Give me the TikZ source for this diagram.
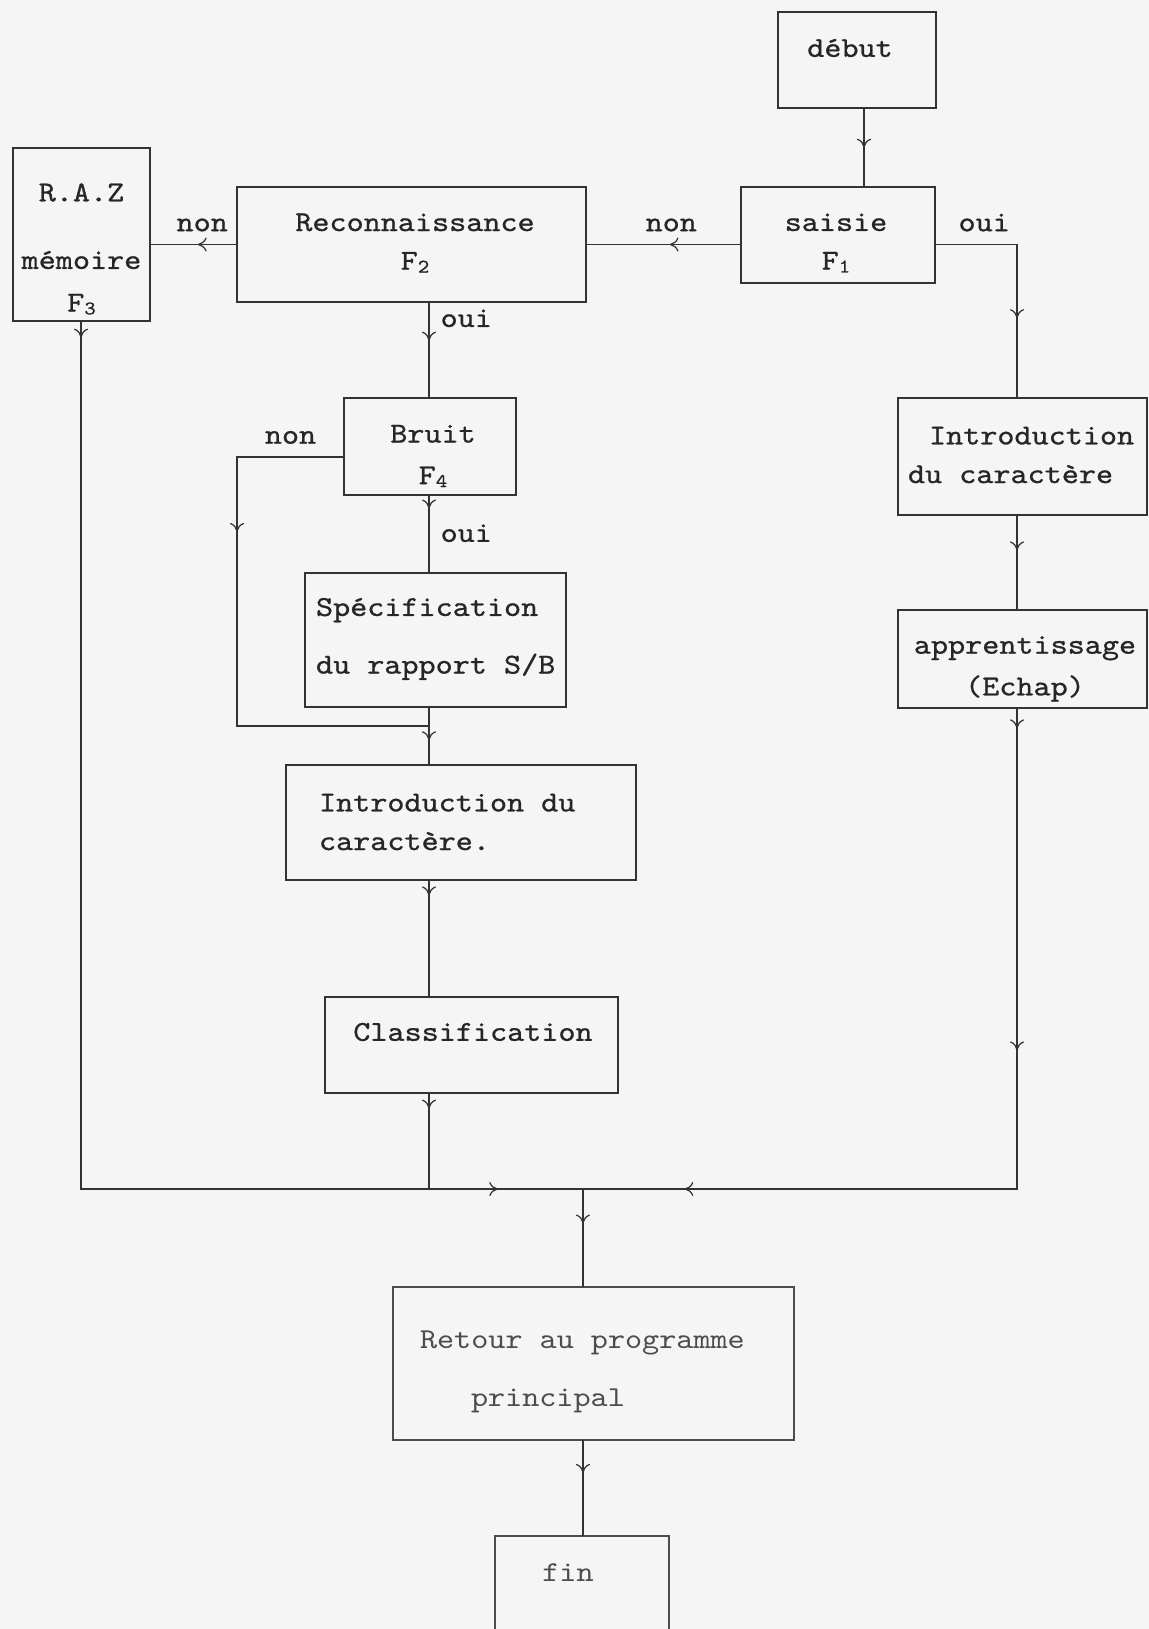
\documentclass[tikz,border=0pt]{standalone}
\usepackage{fontspec}
\newfontfamily\typefont{lmmono10-regular.otf}[FakeStretch=1.13,FakeBold=0.8]
\newfontfamily\lighttype{lmmono10-regular.otf}[FakeStretch=1.13]
\usetikzlibrary{arrows.meta,decorations.markings}
\newcommand\idx[1]{\raisebox{-0.1em}{\fontsize{11}{11}\selectfont #1}}
\newcommand\typesize{\fontsize{16.4}{22}\selectfont\spaceskip=0.593em\relax}
\begin{document}
\begin{tikzpicture}[x=0.02cm,y=-0.02cm,>={To[length=5pt,width=8pt]},
    font=\typefont\typesize,text=black!85,
    box/.style={draw=black!80,line width=1pt,inner sep=0pt,outer sep=0pt},
    txt/.style={inner sep=0pt,align=center},
    wire/.style={draw=black!80,line width=0.7pt},
    midtip/.style={decoration={markings,mark=at position #1 with {\arrow{>}}}},
    flow/.style={wire,postaction={decorate},midtip=#1},
    lbl/.style={inner sep=0pt}]
  \clip (0,0) rectangle (1149,1629);
  \fill[black!4] (0,0) rectangle (1149,1629);
  % columns of the connectors
  \coordinate (cA) at (864,0);
  \coordinate (cM) at (429,0);
  \coordinate (cL) at (81,0);
  \coordinate (cR) at (1017,0);
  \coordinate (cB) at (237,0);
  \coordinate (cJ) at (583,0);
  \coordinate (bot) at (0,1189);
  \coordinate (merge) at (429,726);
  % boxes
  \node[box,minimum width=3.16cm,minimum height=1.92cm] (debut) at (857,60) {};
  \node[box,minimum width=3.88cm,minimum height=1.92cm] (saisie) at (838,235) {};
  \node[box,minimum width=6.98cm,minimum height=2.30cm] (recon) at (411.5,244.5) {};
  \node[box,minimum width=2.74cm,minimum height=3.46cm] (raz) at (81.5,234.5) {};
  \node[box,minimum width=3.44cm,minimum height=1.94cm] (bruit) at (430,446.5) {};
  \node[box,minimum width=4.98cm,minimum height=2.34cm] (intro1) at (1022.5,456.5) {};
  \node[box,minimum width=4.98cm,minimum height=1.96cm] (appr) at (1022.5,659) {};
  \node[box,minimum width=5.22cm,minimum height=2.68cm] (spec) at (435.5,640) {};
  \node[box,minimum width=7cm,minimum height=2.30cm] (intro2) at (461,822.5) {};
  \node[box,minimum width=5.86cm,minimum height=1.92cm] (classif) at (471.5,1045) {};
  \node[box,draw=black!70,minimum width=8.02cm,minimum height=3.06cm] (retour) at (593.5,1363.5) {};
  \node[box,draw=black!70,anchor=north,minimum width=3.48cm,minimum height=3cm] (fin) at (582,1536) {};
  % texts of the boxes
  \node[txt] (debutT) at (850,48) {début};
  \node[txt] (saisieT) at (836,243) {saisie\\F\idx{1}};
  \node[txt] (reconT) at (415,243) {Reconnaissance\\F\idx{2}};
  \node[txt] (razT) at (81.5,249) {R.A.Z\\[0.58cm]mémoire\\[0.08cm]F\idx{3}};
  \node[txt] (bruitT) at (433,456) {Bruit\\[0.06cm]F\idx{4}};
  \node[txt,text width=4.7cm,align=flush left] (intro1T) at (1025.5,455)
       {\hspace*{0.42cm}Introduction\\du caractère};
  \node[txt] (apprT) at (1025,669) {apprentissage\\[0.06cm](Echap)};
  \node[txt,text width=5.1cm,align=flush left] (specT) at (443.5,639)
       {Spécification\\[0.38cm]du rapport S/B};
  \node[txt,text width=5.5cm,align=flush left] (intro2T) at (456.5,822) {Introduction du\\caractère.};
  \node[txt] (classifT) at (473,1032) {Classification};
  \node[txt,font=\lighttype\typesize,text=black!70,text width=6.9cm,align=flush left]
       (retourT) at (592.5,1372) {Retour au programme\\[0.38cm]\hspace*{1.02cm}principal};
  \node[txt,font=\lighttype\typesize,text=black!70] (finT) at (568,1573) {fin};
  % connectors
  \draw[flow=0.5] (debut.south -| cA) -- (saisie.north -| cA);
  \draw[flow=0.46] (saisie.west |- recon) -- node[lbl,above=0.25cm,pos=0.45] {non} (recon.east);
  \draw[flow=0.45] (recon.west) -- node[lbl,above=0.25cm,pos=0.4] {non} (recon.west -| raz.east);
  \draw[flow=0.66] (saisie.east |- recon) -| node[lbl,above=0.25cm,pos=0.3] {oui} (intro1.north -| cR);
  \draw[flow=0.4] (recon.south -| cM) -- node[lbl,right=0.22cm,pos=0.17] {oui} (bruit.north -| cM);
  \draw[flow=0.17] (bruit.south -| cM) -- node[lbl,right=0.22cm,pos=0.49] {oui} (spec.north -| cM);
  \coordinate (bnon) at ([yshift=-0.21cm]bruit.west);
  \draw[flow=0.32] (bnon) -- node[lbl,above=0.25cm] {non} (bnon -| cB) |- (merge);
  \draw[flow=0.57] (spec.south -| cM) -- (intro2.north -| cM);
  \draw[flow=0.13] (intro2.south -| cM) -- (classif.north -| cM);
  \draw[flow=0.16] (classif.south -| cM) -- (cM |- bot);
  \draw[flow=0.37] (intro1.south -| cR) -- (appr.north -| cR);
  \draw[wire,postaction={decorate},midtip=0.022,midtip=0.374,midtip=0.889]
       (appr.south -| cR) -- (cR |- bot) -- (cJ |- bot);
  \draw[wire,postaction={decorate},midtip=0.012,midtip=0.938]
       (raz.south -| cL) -- (cL |- bot) -- (cJ |- bot);
  \draw[flow=0.35] (cJ |- bot) -- (retour.north -| cJ);
  \draw[flow=0.34] (retour.south -| cJ) -- (fin.north -| cJ);
\end{tikzpicture}
\end{document}
